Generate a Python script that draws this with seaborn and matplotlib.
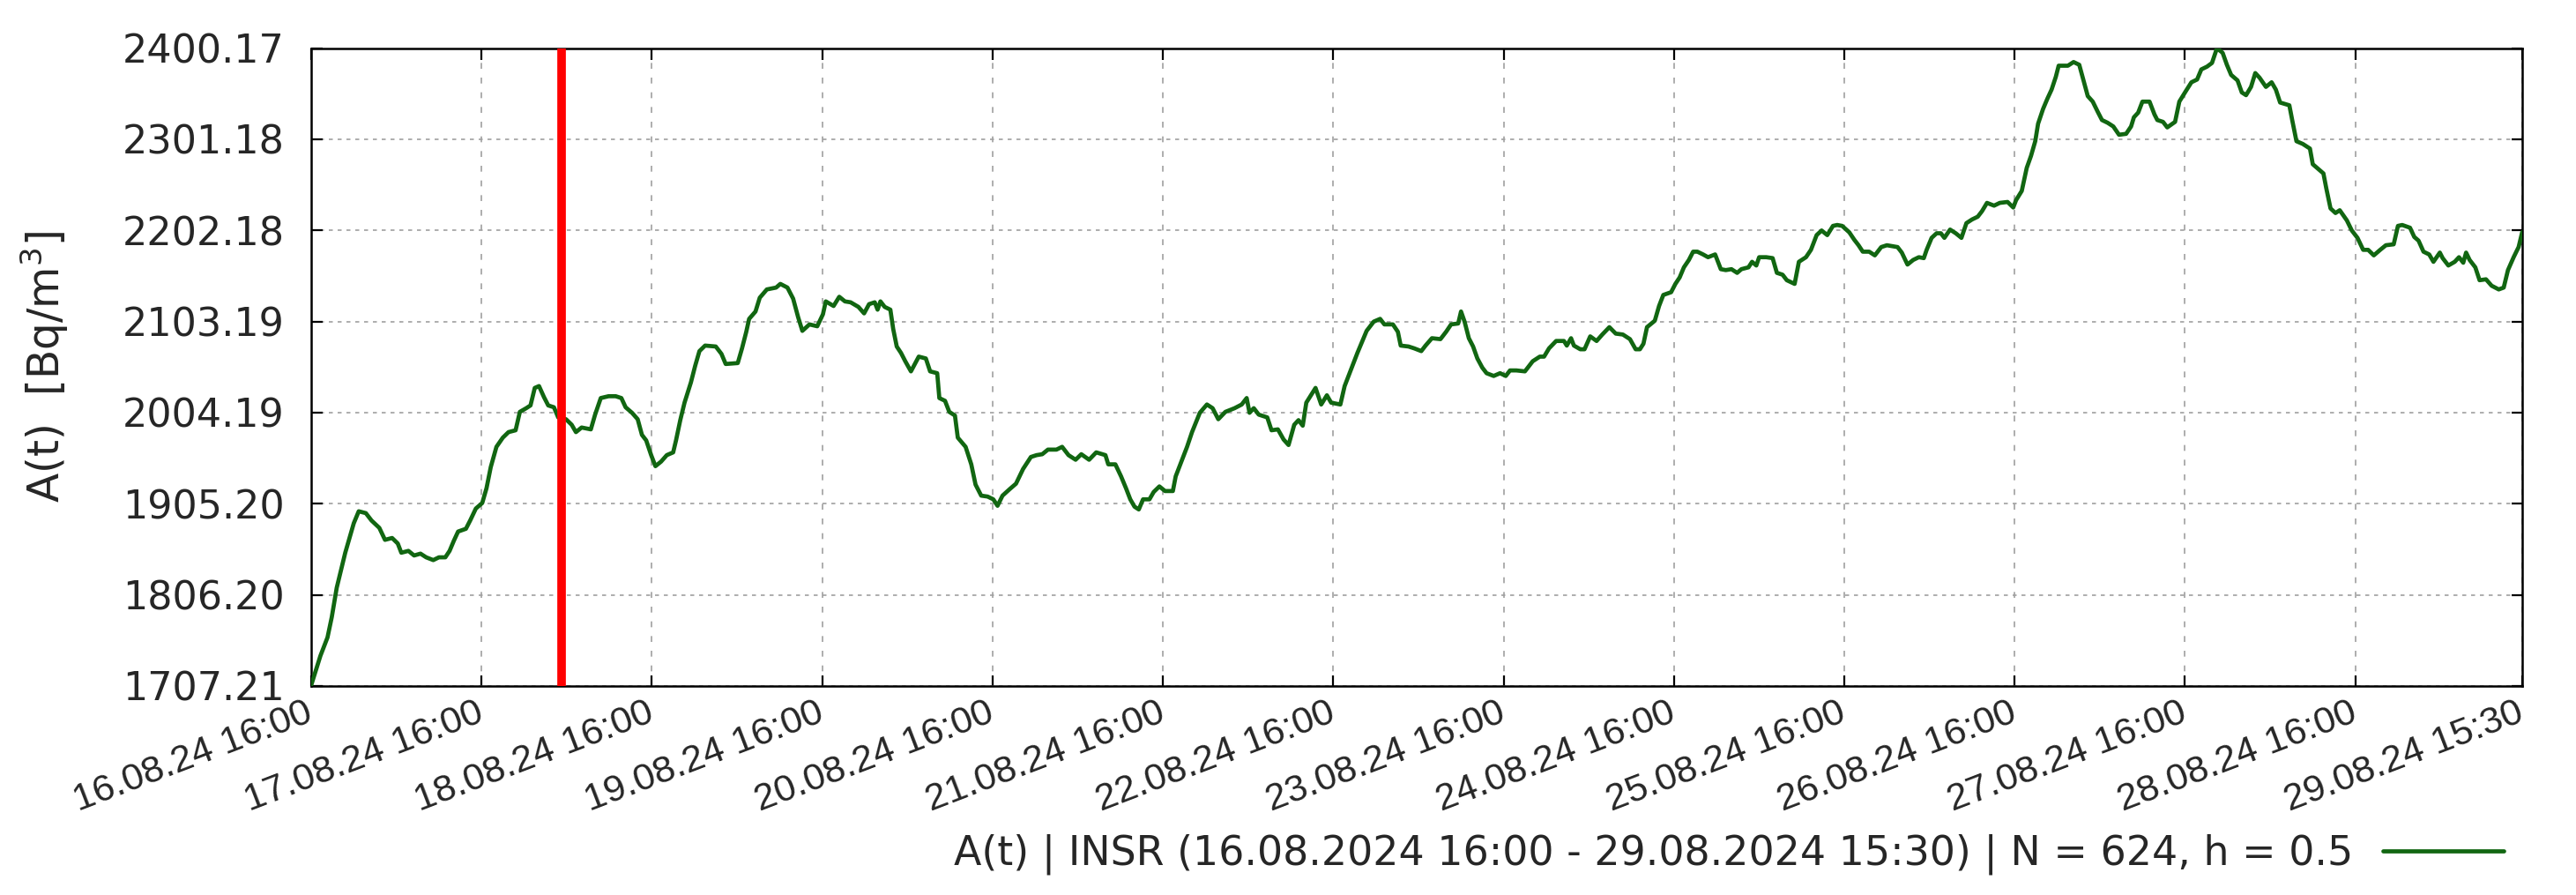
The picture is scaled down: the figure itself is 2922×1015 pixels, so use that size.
import numpy as np
import pandas as pd
import seaborn as sns
import matplotlib
matplotlib.use("Agg")
import matplotlib.pyplot as plt
import matplotlib.transforms as mtransforms

sns.set_theme(style="white")
plt.rcParams['font.family'] = ['DejaVu Sans']

# hours after 16.08.2024 16:00 and activity values
hours = [0, 1.3, 2.3, 2.9, 3.6, 4.2, 4.8, 5.4, 6.0, 6.7, 7.7, 8.5, 9.6, 10.4, 11.4, 12.2, 12.7, 13.7, 14.5, 15.4,
         16.2, 17.2, 18.0, 18.9, 19.5, 20.1, 20.7, 21.8, 22.4, 23.2, 24.1, 24.7, 25.3, 26.1, 27.0, 27.8, 28.8, 29.4,
         30.3, 30.9, 31.5, 32.1, 32.8, 33.4, 34.2, 34.8, 35.9, 36.7, 37.3, 38.1, 39.4, 40.0, 40.8, 41.9, 42.9, 43.7,
         44.3, 45.2, 46.0, 46.6, 47.2, 47.9, 48.5, 49.3, 50.1, 51.0, 51.4, 52.0, 52.6, 53.5, 54.1, 54.7, 55.5, 57.0,
         57.8, 58.4, 60.1, 60.7, 61.3, 61.7, 62.6, 63.2, 64.2, 65.5, 66.1, 67.1, 67.9, 68.6, 69.2, 70.2, 71.3, 72.1,
         72.5, 73.6, 74.4, 75.2, 76.0, 77.1, 77.9, 78.6, 79.4, 79.8, 80.2, 80.8, 81.6, 82.0, 82.5, 83.1, 83.7, 84.5,
         85.6, 86.6, 87.2, 88.2, 88.5, 89.3, 89.9, 90.7, 91.1, 92.2, 93.0, 93.6, 94.4, 95.3, 96.1, 96.7, 97.4, 98.4,
         99.3, 100.3, 101.4, 102.2, 103.0, 103.8, 105.0, 105.8, 106.7, 107.7, 108.5, 109.6, 110.6, 111.9, 112.3,
         113.3, 114.1, 114.8, 115.4, 116.0, 116.6, 117.2, 118.1, 118.7, 119.5, 120.3, 121.4, 121.8, 122.6, 123.4,
         124.1, 125.2, 126.2, 127.0, 127.8, 128.8, 130.1, 131.1, 131.8, 132.2, 132.8, 133.5, 134.7, 135.3, 136.2,
         137.0, 137.7, 138.5, 139.1, 139.7, 140.2, 141.5, 142.3, 143.1, 143.7, 145.0, 145.6, 146.2, 146.8, 147.4,
         148.1, 148.7, 149.7, 150.6, 151.2, 152.4, 153.1, 153.5, 154.6, 155.4, 156.4, 157.0, 157.9, 159.1, 159.9,
         160.6, 161.6, 162.0, 162.5, 163.1, 163.7, 164.3, 165.0, 165.6, 166.6, 167.5, 168.3, 168.9, 169.8, 171.0,
         172.1, 173.1, 173.7, 174.4, 175.4, 176.5, 176.9, 177.5, 177.9, 178.8, 179.4, 180.2, 181.1, 181.9, 182.9,
         183.8, 184.8, 185.8, 186.6, 187.2, 187.7, 188.2, 189.3, 189.9, 190.5, 191.6, 192.2, 192.8, 193.4, 194.1,
         194.7, 195.3, 196.1, 196.8, 197.8, 198.6, 199.3, 200.1, 200.9, 201.5, 202.5, 203.0, 203.6, 204.0, 205.0,
         205.9, 206.5, 207.3, 207.9, 209.0, 209.6, 210.6, 211.3, 212.1, 212.8, 213.6, 214.4, 215.0, 215.7, 216.7,
         217.4, 218.0, 218.6, 219.5, 220.3, 221.2, 222.0, 223.5, 224.1, 224.9, 225.7, 226.5, 227.2, 227.6, 228.3,
         229.0, 229.6, 230.1, 230.9, 231.7, 232.5, 233.2, 234.0, 234.8, 235.4, 236.1, 237.1, 237.9, 239.0, 239.8,
         240.2, 241.0, 241.7, 242.3, 242.9, 243.3, 244.0, 244.6, 245.2, 245.8, 246.2, 247.5, 248.3, 249.1, 249.8,
         250.3, 251.0, 251.7, 252.3, 253.1, 253.9, 254.7, 255.7, 256.4, 256.8, 257.4, 258.0, 259.0, 259.7, 260.1,
         260.9, 261.5, 262.6, 263.2, 264.0, 264.9, 265.7, 266.3, 267.1, 267.8, 268.5, 269.3, 269.9, 270.5, 271.4,
         272.0, 272.6, 273.3, 273.9, 274.5, 275.4, 276.2, 276.8, 277.4, 278.7, 279.1, 279.7, 280.6, 281.6, 282.0,
         282.6, 283.5, 283.9, 284.5, 285.2, 285.8, 286.8, 287.5, 288.3, 289.1, 289.8, 290.6, 291.5, 292.3, 293.4,
         294.0, 294.6, 295.7, 296.3, 296.9, 297.6, 298.4, 299.0, 299.9, 300.3, 301.1, 302.0, 302.6, 303.2, 303.6,
         304.1, 304.9, 305.5, 306.4, 307.2, 308.2, 308.9, 309.5, 310.3, 311.0, 311.5]
activity = [1708, 1740, 1760, 1782, 1814, 1833, 1852, 1868, 1884, 1897, 1895, 1887, 1879, 1866, 1868, 1862, 1852,
            1854, 1849, 1851, 1847, 1844, 1847, 1847, 1854, 1865, 1875, 1878, 1887, 1900, 1906, 1922, 1945, 1967,
            1977, 1983, 1985, 2005, 2009, 2012, 2031, 2033, 2021, 2012, 2010, 1999, 1997, 1991, 1983, 1988, 1986,
            2002, 2020, 2022, 2022, 2020, 2010, 2004, 1997, 1980, 1974, 1958, 1946, 1951, 1958, 1961, 1974, 1996,
            2015, 2037, 2055, 2071, 2077, 2076, 2068, 2057, 2058, 2074, 2092, 2106, 2114, 2129, 2138, 2140, 2144,
            2140, 2128, 2108, 2093, 2100, 2098, 2111, 2125, 2120, 2130, 2125, 2124, 2119, 2112, 2122, 2124, 2116,
            2125, 2119, 2116, 2095, 2076, 2069, 2060, 2049, 2065, 2063, 2049, 2047, 2020, 2017, 2005, 2001, 1977,
            1967, 1948, 1926, 1914, 1913, 1910, 1903, 1914, 1921, 1927, 1943, 1956, 1958, 1959, 1964, 1964, 1967,
            1958, 1953, 1959, 1953, 1961, 1958, 1948, 1948, 1935, 1922, 1910, 1902, 1899, 1910, 1910, 1918, 1924,
            1919, 1919, 1935, 1951, 1967, 1983, 2004, 2013, 2009, 1997, 2005, 2009, 2013, 2020, 2004, 2009, 2002,
            1999, 1985, 1986, 1975, 1969, 1991, 1996, 1990, 2015, 2031, 2013, 2023, 2015, 2013, 2033, 2045, 2057,
            2069, 2082, 2093, 2103, 2106, 2100, 2100, 2092, 2077, 2076, 2074, 2071, 2077, 2085, 2084, 2092, 2100,
            2101, 2114, 2103, 2085, 2076, 2063, 2053, 2047, 2044, 2047, 2044, 2050, 2050, 2049, 2060, 2065, 2065,
            2074, 2082, 2082, 2077, 2085, 2077, 2073, 2073, 2087, 2082, 2089, 2097, 2090, 2089, 2084, 2073, 2073,
            2079, 2097, 2104, 2120, 2132, 2135, 2144, 2151, 2162, 2170, 2179, 2179, 2176, 2173, 2176, 2160, 2159,
            2160, 2156, 2160, 2162, 2168, 2164, 2173, 2173, 2172, 2156, 2154, 2148, 2144, 2168, 2173, 2181, 2197,
            2202, 2197, 2207, 2208, 2207, 2200, 2192, 2186, 2179, 2179, 2175, 2184, 2186, 2184, 2178, 2165, 2170,
            2173, 2172, 2181, 2194, 2199, 2199, 2194, 2203, 2199, 2194, 2210, 2214, 2217, 2223, 2232, 2229, 2232,
            2233, 2227, 2235, 2245, 2270, 2283, 2299, 2318, 2334, 2345, 2355, 2369, 2381, 2381, 2385, 2382, 2362,
            2348, 2342, 2331, 2322, 2319, 2315, 2306, 2307, 2315, 2325, 2330, 2342, 2342, 2328, 2322, 2320, 2314,
            2320, 2342, 2352, 2363, 2366, 2377, 2380, 2384, 2400, 2395, 2382, 2371, 2365, 2352, 2349, 2358, 2373,
            2368, 2358, 2363, 2355, 2341, 2338, 2322, 2299, 2296, 2291, 2274, 2270, 2264, 2248, 2226, 2221, 2224,
            2213, 2202, 2194, 2181, 2181, 2175, 2181, 2186, 2187, 2207, 2208, 2205, 2195, 2191, 2179, 2176, 2168,
            2178, 2172, 2164, 2168, 2173, 2167, 2178, 2170, 2162, 2148, 2149, 2142, 2138, 2140, 2159, 2173, 2184,
            2200]

x_ticks = [0, 24, 48, 72, 96, 120, 144, 168, 192, 216, 240, 264, 288, 311.5]
x_labels = ["16.08.24 16:00", "17.08.24 16:00", "18.08.24 16:00", "19.08.24 16:00", "20.08.24 16:00",
            "21.08.24 16:00", "22.08.24 16:00", "23.08.24 16:00", "24.08.24 16:00", "25.08.24 16:00",
            "26.08.24 16:00", "27.08.24 16:00", "28.08.24 16:00", "29.08.24 15:30"]
y_ticks = [1707.21, 1806.20, 1905.20, 2004.19, 2103.19, 2202.18, 2301.18, 2400.17]
marker_hour = 35.3  # red marker, about 18.08.24 03:20

series_label = "A(t) | INSR (16.08.2024 16:00 - 29.08.2024 15:30) | N = 624, h = 0.5"

df = pd.DataFrame({"hours": hours, "activity": activity})

fig = plt.figure(figsize=(29.22, 10.15), dpi=100)
ax = fig.add_axes([0.1208, 0.2335, 0.8583, 0.7128])

ax.grid(True, axis='x', color='#a0a0a0', linestyle=(0, (4, 6)), linewidth=1.2)
ax.grid(True, axis='y', color='#a0a0a0', linestyle=(0, (2.7, 3.3)), linewidth=1.2)
ax.set_axisbelow(True)

sns.lineplot(data=df, x="hours", y="activity", ax=ax, color='#116611', linewidth=3.4,
             label=series_label, zorder=3)
ax.axvline(marker_hour, color='#ff0000', linewidth=7, zorder=4)

ax.set_xlim(x_ticks[0], x_ticks[-1])
ax.set_ylim(y_ticks[0], y_ticks[-1])

ax.set_yticks(y_ticks)
ax.set_yticklabels([f"{v:.2f}" for v in y_ticks], fontsize=32)
ax.set_xticks(x_ticks)
ax.set_xticklabels(x_labels, fontsize=31, family='Liberation Sans', rotation=21,
                   ha='right', va='center', rotation_mode='anchor')
shift = mtransforms.ScaledTranslation(14 / 72, 0, fig.dpi_scale_trans)
for lab in ax.get_xticklabels():
    lab.set_transform(lab.get_transform() + shift)

ax.tick_params(axis='both', direction='in', length=9, width=1.6, color='black',
               top=True, right=True, bottom=True, left=True)
ax.tick_params(axis='y', pad=22)
ax.tick_params(axis='x', pad=21)

for sp in ax.spines.values():
    sp.set_visible(True)
    sp.set_color('black')
    sp.set_linewidth(1.8)

ax.set_xlabel("")
ax.set_ylabel("A(t)  [Bq/m$^3$]", fontsize=35)
ax.yaxis.set_label_coords(-0.109, 0.5)

ax.legend(loc='center right', bbox_to_anchor=(2840 / 2922, 1 - 969 / 1015),
          bbox_transform=fig.transFigure, markerfirst=False, frameon=False,
          fontsize=33, handlelength=3.0, handletextpad=0.72, borderpad=0, borderaxespad=0)

fig.savefig("out.png", dpi=100)
